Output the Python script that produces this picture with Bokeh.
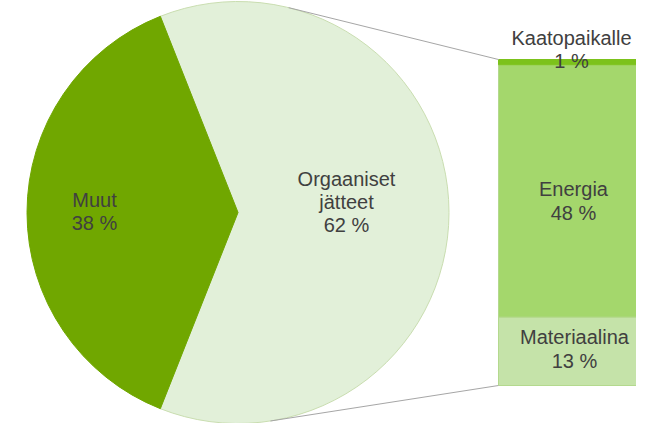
import math
from bokeh.plotting import figure
from bokeh.models import Range1d
from bokeh.core.properties import value
from bokeh.embed import file_html
from bokeh.resources import INLINE

# ---- data ----
pie_labels = ["Muut", "Orgaaniset jätteet"]
pie_values = [38, 62]
pie_colors = ["#70A700", "#E2F0D9"]

bar_labels = ["Materiaalina", "Energia", "Kaatopaikalle"]   # bottom -> top
bar_values = [13, 48, 1]
bar_colors = ["#C5E3A9", "#A4D76C", "#7CC21B"]

# ---- layout (screen-pixel-like data units, y up) ----
W, H = 636, 423
p = figure(width=W, height=H, output_backend="svg", toolbar_location=None,
           x_range=Range1d(0, W), y_range=Range1d(439 - H, 439),
           min_border=0, min_border_left=0, min_border_right=0,
           min_border_top=0, min_border_bottom=0)
p.axis.visible = False
p.grid.visible = False
p.outline_line_color = None
p.background_fill_color = "white"

cx, cy, r = 237.5, 227.0, 211.0
TXT = "#404040"
FONT = value("Liberation Sans")
FS = "20px"

# pie: "Muut" centred on the left (180 deg)
total = sum(pie_values)
muut_span = pie_values[0] / total * 360.0
a0 = math.radians(180 - muut_span / 2)
a1 = math.radians(180 + muut_span / 2)
p.wedge(x=[cx, cx], y=[cy, cy], radius=r,
        start_angle=[a1, a0], end_angle=[a0 + 2 * math.pi, a1],
        direction="anticlock",
        fill_color=[pie_colors[1], pie_colors[0]],
        line_color=["#C9DDB0", pie_colors[0]], line_width=1)

# bar of pie
bar_x0, bar_x1 = 498, 700
bar_bottom, bar_top = 54, 380
unit = (bar_top - bar_bottom) / sum(bar_values)
bottoms, tops = [], []
acc = bar_bottom
for v in bar_values:
    bottoms.append(acc)
    acc += v * unit
    tops.append(acc)
p.quad(left=[bar_x0] * 3, right=[bar_x1] * 3, bottom=bottoms, top=tops,
       fill_color=bar_colors, line_color=["#B4D98E", "#B4D98E", bar_colors[2]],
       line_width=1)

# connector lines: tangents from the bar corners to the pie
def tangent(px, py, upper):
    dx, dy = px - cx, py - cy
    d = math.hypot(dx, dy)
    phi = math.atan2(dy, dx)
    alpha = math.acos(r / d)
    t = phi + alpha if upper else phi - alpha
    return cx + r * math.cos(t), cy + r * math.sin(t)

tx, ty = tangent(bar_x0, bar_top, True)
bx, by = tangent(bar_x0, bar_bottom, False)
p.segment(x0=[tx, bx], y0=[ty, by], x1=[bar_x0, bar_x0], y1=[bar_top, bar_bottom],
          line_color="#A6A6A6", line_width=1)

# labels
def label(x, ys, lines):
    p.text(x=[x] * len(lines), y=ys, text=lines, text_align="center",
           text_baseline="middle", text_color=TXT, text_font=FONT,
           text_font_size=FS)

label(94, [439 - 199, 439 - 222], [pie_labels[0], f"{pie_values[0]} %"])
label(346, [439 - 178, 439 - 201, 439 - 224],
      ["Orgaaniset", "jätteet", f"{pie_values[1]} %"])

label(571, [439 - 37, 439 - 60], [bar_labels[2], f"{bar_values[2]} %"])
label(573, [439 - 188, 439 - 212], [bar_labels[1], f"{bar_values[1]} %"])
label(574, [439 - 336, 439 - 360], [bar_labels[0], f"{bar_values[0]} %"])

open("out.html", "w").write(file_html(p, INLINE))
